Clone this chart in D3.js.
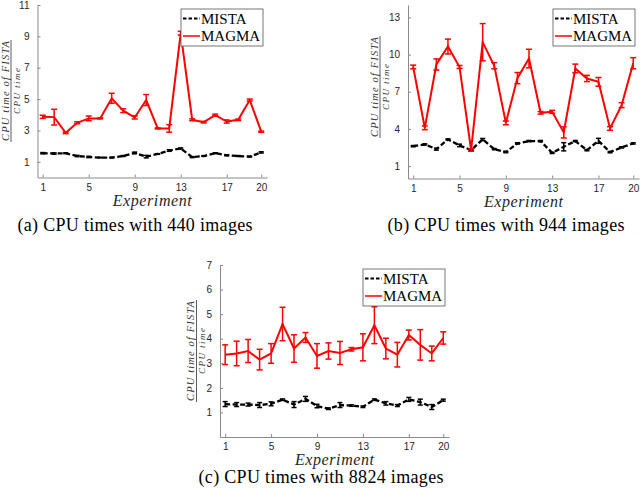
<!DOCTYPE html>
<html>
<head>
<meta charset="utf-8">
<script src="https://cdn.jsdelivr.net/npm/d3@7"></script>
<style>
  body { margin: 0; background: #fff; }
  svg { display: block; }
</style>
</head>
<body>
<div id="chart"></div>
<script>
// 实验编号与刻度
const experiments = [1, 2, 3, 4, 5, 6, 7, 8, 9, 10, 11, 12, 13, 14, 15, 16, 17, 18, 19, 20];
const xTicks = [1, 5, 9, 13, 17, 20];
const yTicksA = [1, 3, 5, 7, 9, 11];
const yTicksB = [1, 4, 7, 10, 13];
const yTicksC = [1, 2, 3, 4, 5, 6, 7];

// (a) 440 images
const magmaA = [3.87, 3.85, 2.85, 3.49, 3.77, 3.77, 5.05, 4.26, 3.83, 4.94, 3.13, 3.13, 9.2, 3.68, 3.53, 3.98, 3.57, 3.68, 4.94, 2.92];
const magmaErrA = [0.1, 0.5, 0.05, 0.06, 0.15, 0.03, 0.32, 0.12, 0.1, 0.35, 0.03, 0.24, 0.12, 0.06, 0.05, 0.06, 0.1, 0.05, 0.06, 0.04];
const mistaA = [1.55, 1.53, 1.55, 1.37, 1.31, 1.27, 1.27, 1.37, 1.57, 1.33, 1.5, 1.72, 1.85, 1.3, 1.37, 1.55, 1.42, 1.37, 1.33, 1.6];
const mistaErrA = [0.04, 0.04, 0.03, 0.04, 0.04, 0.02, 0.02, 0.03, 0.05, 0.08, 0.02, 0.05, 0.04, 0.03, 0.02, 0.03, 0.03, 0.03, 0.02, 0.04];

// (b) 944 images
const magmaB = [9.0, 4.09, 9.2, 10.65, 9.0, 2.3, 11.0, 9.1, 4.49, 8.1, 9.68, 5.3, 5.38, 3.72, 8.88, 8.07, 7.8, 4.04, 5.92, 9.3];
const magmaErrB = [0.15, 0.15, 0.45, 0.6, 0.12, 0.1, 1.5, 0.25, 0.15, 0.45, 0.75, 0.1, 0.12, 0.45, 0.35, 0.25, 0.35, 0.15, 0.2, 0.45];
const mistaB = [2.61, 2.75, 2.37, 3.15, 2.67, 2.29, 3.15, 2.37, 2.13, 2.83, 3.02, 3.02, 2.07, 2.56, 3.02, 2.29, 3.04, 2.13, 2.51, 2.83];
const mistaErrB = [0.05, 0.05, 0.08, 0.05, 0.1, 0.05, 0.08, 0.05, 0.05, 0.05, 0.05, 0.05, 0.05, 0.33, 0.05, 0.05, 0.2, 0.05, 0.05, 0.05];

// (c) 8824 images
const magmaC = [3.35, 3.4, 3.5, 3.15, 3.4, 4.6, 3.6, 4.05, 3.3, 3.5, 3.42, 3.57, 3.65, 4.55, 3.6, 3.35, 4.15, 3.75, 3.4, 4.03];
const magmaErrC = [0.4, 0.5, 0.47, 0.42, 0.4, 0.68, 0.56, 0.2, 0.5, 0.33, 0.47, 0.07, 0.55, 0.75, 0.42, 0.5, 0.2, 0.62, 0.3, 0.25];
const mistaC = [1.34, 1.32, 1.32, 1.3, 1.35, 1.52, 1.32, 1.55, 1.26, 1.15, 1.3, 1.28, 1.23, 1.52, 1.37, 1.28, 1.53, 1.42, 1.22, 1.5];
const mistaErrC = [0.1, 0.08, 0.06, 0.1, 0.08, 0.03, 0.12, 0.1, 0.07, 0.03, 0.1, 0.03, 0.03, 0.03, 0.07, 0.04, 0.08, 0.12, 0.1, 0.04];

const seriesNames = ["MISTA", "MAGMA"];
const captions = ["(a) CPU times with 440 images", "(b) CPU times with 944 images", "(c) CPU times with 8824 images"];

let width = 640;
let height = 488;

let svg = d3.select("#chart")
    .append("svg")
    .attr("width", width)
    .attr("height", height);

svg.append("rect").attr("width", width).attr("height", height).attr("fill", "#fff");

function drawPanel(p) {
    let x = d3.scaleLinear().domain([0.55, 20.5]).range([p.left, p.right]);
    let y = d3.scaleLinear().domain([0, p.yMax]).range([p.bottom, p.top]);
    let g = svg.append("g");

    // 坐标轴
    let xAxis = g.append("g")
        .attr("transform", "translate(0," + p.bottom + ")")
        .call(d3.axisBottom(x).tickValues(xTicks).tickFormat(d3.format("d"))
            .tickSizeInner(-3).tickSizeOuter(0).tickPadding(6));
    let yAxis = g.append("g")
        .attr("transform", "translate(" + p.left + ",0)")
        .call(d3.axisLeft(y).tickValues(p.yTicks).tickFormat(d3.format("d"))
            .tickSizeInner(-3).tickSizeOuter(0).tickPadding(8));
    [xAxis, yAxis].forEach(function (a) {
        a.selectAll("path, line").attr("stroke", "#8a8a8a");
        a.selectAll("text").attr("fill", "#262626")
            .style("font-family", "'Liberation Sans', Arial, sans-serif")
            .style("font-size", "10px");
    });

    // 两条折线及误差棒
    let line = d3.line()
        .x(function (d, i) { return x(experiments[i]); })
        .y(function (d) { return y(d); });

    let series = [
        { vals: p.mista, errs: p.mistaErr, color: "#000", dash: "5,2.5", w: 2.3, cap: 2.5 },
        { vals: p.magma, errs: p.magmaErr, color: "#ff0000", dash: null, w: 2, cap: 3 }
    ];
    series.forEach(function (s) {
        g.append("path")
            .datum(s.vals)
            .attr("d", line)
            .attr("fill", "none")
            .attr("stroke", s.color)
            .attr("stroke-width", s.w)
            .attr("stroke-dasharray", s.dash);
        let eb = g.append("g").attr("stroke", s.color).attr("stroke-width", 1.5);
        s.vals.forEach(function (v, i) {
            let cx = x(experiments[i]);
            let lo = y(v - s.errs[i]);
            let hi = y(v + s.errs[i]);
            eb.append("line").attr("x1", cx).attr("x2", cx).attr("y1", lo).attr("y2", hi);
            eb.append("line").attr("x1", cx - s.cap).attr("x2", cx + s.cap).attr("y1", lo).attr("y2", lo);
            eb.append("line").attr("x1", cx - s.cap).attr("x2", cx + s.cap).attr("y1", hi).attr("y2", hi);
        });
    });

    // 图例
    let lg = g.append("g").attr("transform", "translate(" + (p.right - 86) + "," + (p.top + 4) + ")");
    lg.append("rect").attr("width", 82).attr("height", 37)
        .attr("fill", "#fff").attr("stroke", "#555").attr("stroke-width", 0.8);
    seriesNames.forEach(function (name, i) {
        let ly = 9.5 + i * 17.5;
        lg.append("line").attr("x1", 2).attr("x2", 19).attr("y1", ly).attr("y2", ly)
            .attr("stroke", series[i].color).attr("stroke-width", i === 0 ? 2 : 1.5)
            .attr("stroke-dasharray", i === 0 ? "3.5,2" : null);
        lg.append("text").attr("x", 20).attr("y", ly + 5)
            .style("font-family", "'Liberation Serif', 'Times New Roman', serif")
            .style("font-size", "15px")
            .attr("fill", "#000")
            .text(name);
    });

    // x 轴标题
    g.append("text")
        .attr("x", (p.left + p.right) / 2)
        .attr("y", p.bottom + 28)
        .attr("text-anchor", "middle")
        .style("font-family", "'Liberation Serif', 'Times New Roman', serif")
        .style("font-style", "italic")
        .style("font-size", "16px")
        .attr("textLength", 79)
        .attr("fill", "#262626")
        .text("Experiment");

    // y 轴标题（分式）
    let yl = g.append("g").attr("transform", "translate(" + p.labelX + "," + p.labelY + ") rotate(-90)");
    yl.append("text").attr("x", 0).attr("y", -2.5)
        .attr("text-anchor", "middle")
        .style("font-family", "'Liberation Serif', 'Times New Roman', serif")
        .style("font-style", "italic")
        .style("font-size", "10.5px")
        .attr("textLength", 100)
        .attr("fill", "#333")
        .text("CPU time of FISTA");
    yl.append("line").attr("x1", -51).attr("x2", 51).attr("y1", 0).attr("y2", 0)
        .attr("stroke", "#333").attr("stroke-width", 0.8);
    yl.append("text").attr("x", 0).attr("y", 8.5)
        .attr("text-anchor", "middle")
        .style("font-family", "'Liberation Serif', 'Times New Roman', serif")
        .style("font-style", "italic")
        .style("font-size", "9px")
        .attr("textLength", 46)
        .attr("fill", "#333")
        .text("CPU time");

    // 子图标题
    svg.append("text")
        .attr("x", p.captionX)
        .attr("y", p.captionY)
        .attr("text-anchor", "middle")
        .style("font-family", "'Liberation Serif', 'Times New Roman', serif")
        .style("font-size", "18px")
        .attr("textLength", p.captionW)
        .attr("fill", "#000")
        .text(p.caption);
}

drawPanel({
    left: 37.5, right: 267, top: 5, bottom: 177.5, yMax: 11, yTicks: yTicksA,
    mista: mistaA, mistaErr: mistaErrA, magma: magmaA, magmaErr: magmaErrA,
    labelX: 11, labelY: 91, caption: captions[0], captionX: 135, captionY: 231, captionW: 235
});
drawPanel({
    left: 408, right: 639, top: 5, bottom: 178.5, yMax: 14, yTicks: yTicksB,
    mista: mistaB, mistaErr: mistaErrB, magma: magmaB, magmaErr: magmaErrB,
    labelX: 380, labelY: 87, caption: captions[1], captionX: 506, captionY: 231, captionW: 237
});
drawPanel({
    left: 220, right: 449, top: 265, bottom: 437, yMax: 7, yTicks: yTicksC,
    mista: mistaC, mistaErr: mistaErrC, magma: magmaC, magmaErr: magmaErrC,
    labelX: 196.5, labelY: 351, caption: captions[2], captionX: 321, captionY: 483, captionW: 245
});
</script>
</body>
</html>
